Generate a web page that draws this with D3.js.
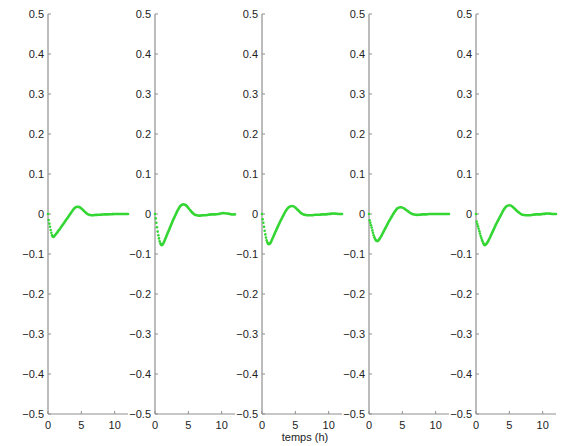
<!DOCTYPE html>
<html>
<head>
<meta charset="utf-8">
<script src="https://cdn.jsdelivr.net/npm/d3@7"></script>
<style>
  html, body { margin: 0; padding: 0; background: #fff; }
  svg { display: block; }
  text { font-family: "Liberation Sans", Arial, sans-serif; font-size: 11px; fill: #222; }
</style>
</head>
<body>
<svg id="chart" width="563" height="446"></svg>
<script>
// Shared time grid (hours): fine steps during the initial drop, coarser afterwards
const timeH = [
  0, 0.1, 0.2, 0.3, 0.4, 0.5, 0.6, 0.7, 0.8, 0.9, 1.0, 1.1, 1.2, 1.3, 1.4, 1.5,
  1.75, 2.0, 2.25, 2.5, 2.75, 3.0, 3.25, 3.5, 3.75, 4.0, 4.25, 4.5, 4.75, 5.0,
  5.25, 5.5, 5.75, 6.0, 6.25, 6.5, 6.75, 7.0,
  7.5, 8.0, 8.5, 9.0, 9.5, 10.0, 10.5, 11.0, 11.5, 12.0
];

// Response of each of the five runs
const run1 = [
  0, -0.015, -0.024, -0.032, -0.040, -0.047, -0.053, -0.056, -0.057, -0.056, -0.054, -0.052, -0.050, -0.048, -0.046, -0.043,
  -0.038, -0.032, -0.026, -0.020, -0.014, -0.008, -0.002, 0.004, 0.010, 0.015, 0.0175, 0.018, 0.017, 0.014,
  0.010, 0.006, 0.002, -0.001, -0.002, -0.003, -0.003, -0.0025,
  -0.002, -0.0015, -0.001, -0.001, -0.0005, 0, 0, 0, 0, 0
];
const run2 = [
  0, -0.011, -0.022, -0.033, -0.044, -0.053, -0.061, -0.068, -0.073, -0.076, -0.0775, -0.077, -0.075, -0.072, -0.068, -0.064,
  -0.054, -0.044, -0.034, -0.024, -0.014, -0.005, 0.004, 0.012, 0.019, 0.023, 0.024, 0.023, 0.020, 0.015,
  0.010, 0.005, 0.001, -0.002, -0.003, -0.004, -0.004, -0.0035,
  -0.003, -0.002, -0.001, -0.001, 0, 0.002, 0.002, 0.001, -0.001, -0.001
];
const run3 = [
  0, -0.013, -0.022, -0.032, -0.042, -0.051, -0.059, -0.066, -0.071, -0.074, -0.075, -0.075, -0.074, -0.071, -0.068, -0.064,
  -0.055, -0.045, -0.036, -0.027, -0.018, -0.010, -0.002, 0.006, 0.012, 0.017, 0.019, 0.020, 0.019, 0.016,
  0.012, 0.008, 0.004, 0.001, -0.001, -0.002, -0.003, -0.003,
  -0.003, -0.002, -0.002, -0.001, -0.001, 0, 0.001, 0.001, 0, 0
];
const run4 = [
  0, -0.016, -0.022, -0.028, -0.034, -0.041, -0.047, -0.053, -0.058, -0.062, -0.065, -0.067, -0.0675, -0.0675, -0.066, -0.064,
  -0.058, -0.050, -0.042, -0.034, -0.026, -0.018, -0.011, -0.004, 0.003, 0.009, 0.014, 0.016, 0.017, 0.016,
  0.014, 0.011, 0.008, 0.005, 0.002, 0.000, -0.001, -0.002,
  -0.002, -0.001, -0.001, 0, 0, 0, 0, 0, 0, 0
];
const run5 = [
  0, -0.019, -0.025, -0.031, -0.037, -0.043, -0.049, -0.055, -0.060, -0.065, -0.069, -0.073, -0.076, -0.0775, -0.0775, -0.076,
  -0.070, -0.062, -0.053, -0.044, -0.035, -0.026, -0.018, -0.010, -0.002, 0.006, 0.013, 0.018, 0.021, 0.022,
  0.021, 0.018, 0.014, 0.010, 0.006, 0.003, 0.000, -0.002,
  -0.003, -0.003, -0.002, -0.001, -0.001, 0, 0.001, 0.001, 0, 0
];
const runs = [run1, run2, run3, run4, run5];

// Tick labels
const yTicks = [0.5, 0.4, 0.3, 0.2, 0.1, 0, -0.1, -0.2, -0.3, -0.4, -0.5];
const xTicks = [0, 5, 10];
const xLabel = "temps (h)";

const svg = d3.select("#chart");
const axisColor = "#8f8f8f";
const green = "#34d634";

const plotTop = 14, plotBottom = 414;
const panelLeft = 48, panelStep = 107, panelWidth = 80;

const y = d3.scaleLinear().domain([-0.5, 0.5]).range([plotBottom, plotTop]);

runs.forEach((vals, i) => {
  const x0 = panelLeft + i * panelStep;
  const x = d3.scaleLinear().domain([0, 12]).range([x0, x0 + panelWidth]);
  const g = svg.append("g");

  // Axes (left and bottom only), ticks pointing inward
  g.append("line").attr("x1", x0).attr("x2", x0).attr("y1", plotTop).attr("y2", plotBottom)
    .attr("stroke", axisColor).attr("stroke-width", 1.2);
  g.append("line").attr("x1", x0).attr("x2", x0 + panelWidth).attr("y1", plotBottom).attr("y2", plotBottom)
    .attr("stroke", axisColor).attr("stroke-width", 1.2);

  yTicks.forEach(v => {
    g.append("line").attr("x1", x0).attr("x2", x0 + 3).attr("y1", y(v)).attr("y2", y(v))
      .attr("stroke", axisColor).attr("stroke-width", 1);
    g.append("text").attr("x", x0 - 4).attr("y", y(v)).attr("dy", "0.35em")
      .attr("text-anchor", "end").text(d3.format("")(v));
  });
  xTicks.forEach(v => {
    g.append("line").attr("x1", x(v)).attr("x2", x(v)).attr("y1", plotBottom).attr("y2", plotBottom - 3)
      .attr("stroke", axisColor).attr("stroke-width", 1);
    g.append("text").attr("x", x(v)).attr("y", plotBottom + 15)
      .attr("text-anchor", "middle").text(v);
  });

  // Data: dotted markers during the drop, continuous trace from the minimum onward
  const pts = timeH.map((t, k) => [t, vals[k]]);
  const iMin = d3.minIndex(vals);
  g.append("path")
    .datum(pts.slice(iMin))
    .attr("fill", "none")
    .attr("stroke", green)
    .attr("stroke-width", 2.6)
    .attr("stroke-linecap", "round")
    .attr("d", d3.line().x(d => x(d[0])).y(d => y(d[1])).curve(d3.curveCatmullRom));
  g.selectAll("circle.mk")
    .data(pts.slice(0, iMin + 1))
    .join("circle")
    .attr("class", "mk")
    .attr("cx", d => x(d[0]))
    .attr("cy", d => y(d[1]))
    .attr("r", 1.3)
    .attr("fill", green);
});

svg.append("text")
  .attr("x", 305).attr("y", 441)
  .attr("text-anchor", "middle")
  .text(xLabel);
</script>
</body>
</html>
